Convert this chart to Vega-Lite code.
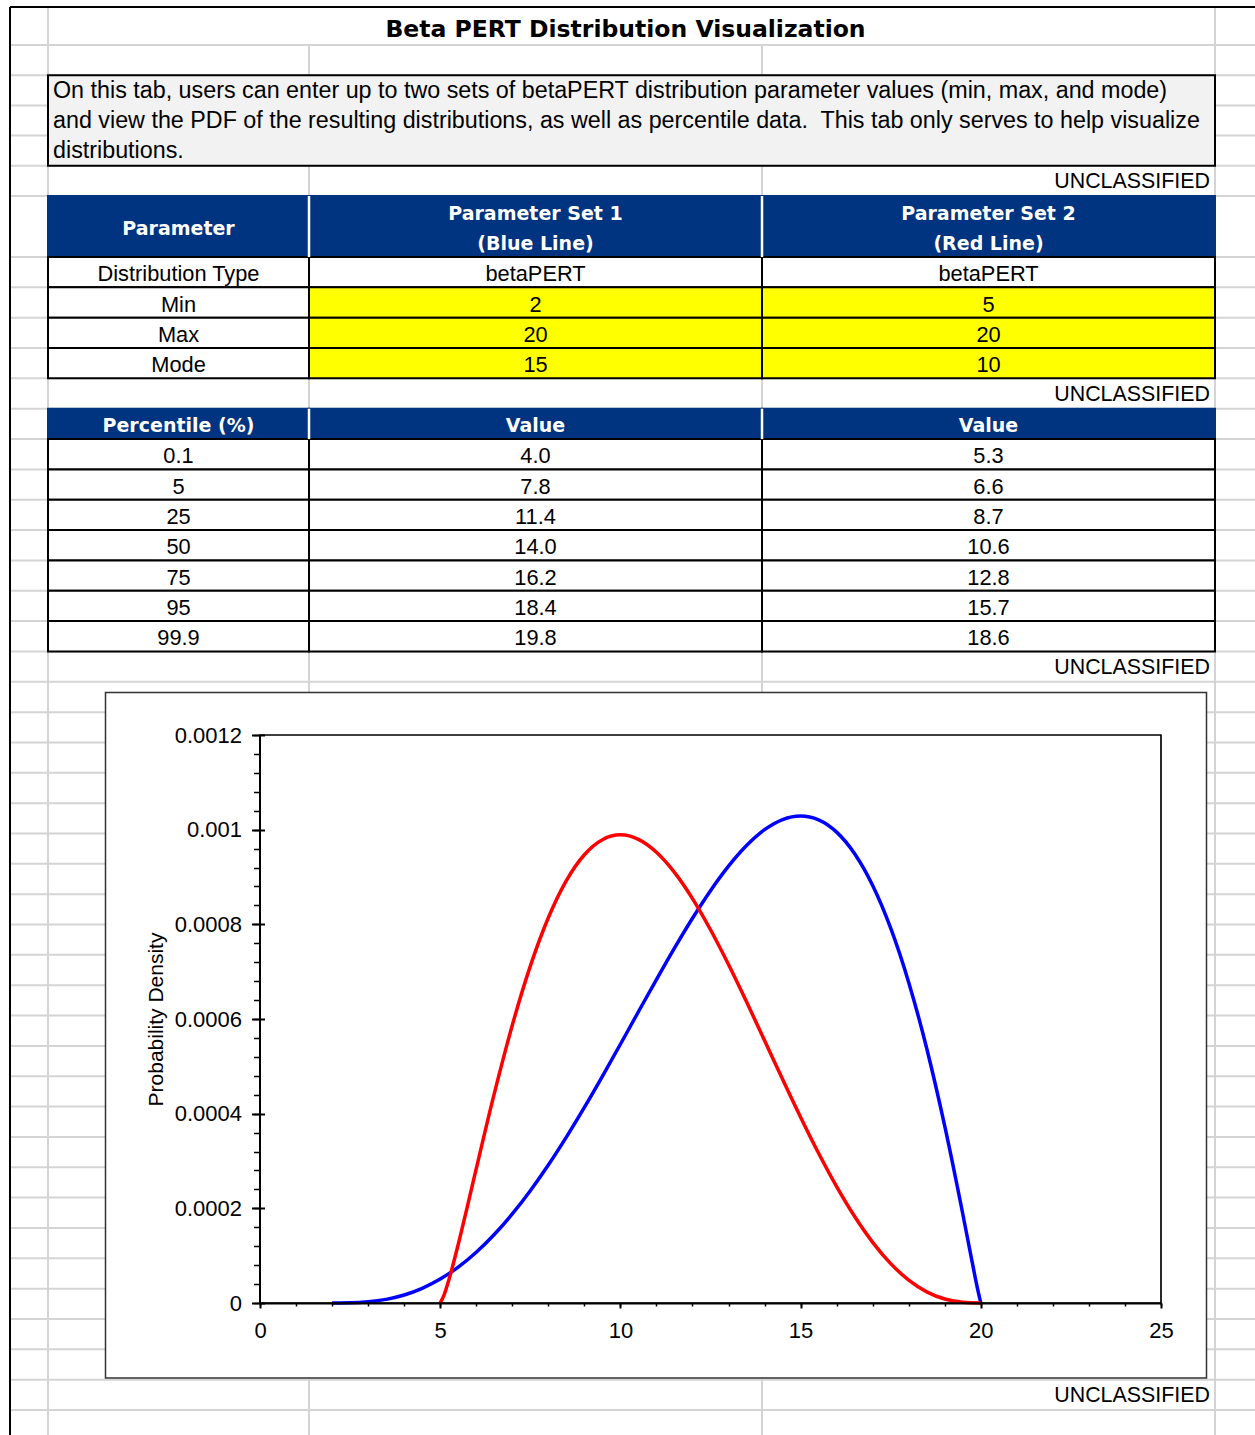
{
  "$schema": "https://vega.github.io/schema/vega-lite/v6.json",
  "width": 1255,
  "height": 1435,
  "autosize": {"type": "none"},
  "padding": 0,
  "background": "white",
  "config": {"view": {"stroke": null}, "text": {"font": "Liberation Sans", "color": "black"}},
  "datasets": {
    "hgrid": [{"r":1},{"r":2},{"r":3},{"r":4},{"r":5},{"r":6},{"r":7},{"r":8},{"r":9},{"r":10},{"r":11},{"r":12},{"r":13},{"r":14},{"r":15},{"r":16},{"r":17},{"r":18},{"r":19},{"r":20},{"r":21},{"r":22},{"r":23},{"r":24},{"r":25},{"r":26},{"r":27},{"r":28},{"r":29},{"r":30},{"r":31},{"r":32},{"r":33},{"r":34},{"r":35},{"r":36},{"r":37},{"r":38},{"r":39},{"r":40},{"r":41},{"r":42},{"r":43},{"r":44},{"r":45}],
    "vgrid": [{"c":1,"r0":0,"r1":46},{"c":2,"r0":1,"r1":46},{"c":3,"r0":1,"r1":46},{"c":4,"r0":0,"r1":46}],
    "edges": [{"c0":0,"c1":5,"r0":0,"r1":0},{"c0":0,"c1":0,"r0":0,"r1":46}],
    "seps": [{"c":2,"r0":6,"r1":7},{"c":3,"r0":6,"r1":7},{"c":2,"r0":12,"r1":13},{"c":3,"r0":12,"r1":13}],
    "note": [
      {"r0":2,"c":1,"label":"On this tab, users can enter up to two sets of betaPERT distribution parameter values (min, max, and mode)"},
      {"r0":3,"c":1,"label":"and view the PDF of the resulting distributions, as well as percentile data.\u00a0 This tab only serves to help visualize"},
      {"r0":4,"c":1,"label":"distributions."}
    ],
    "marks": [{"r0":5,"label":"UNCLASSIFIED"},{"r0":11,"label":"UNCLASSIFIED"},{"r0":20,"label":"UNCLASSIFIED"},{"r0":44,"label":"UNCLASSIFIED"}],
    "table": [
      {"r0":6,"r1":7,"c0":1,"c1":2,"kind":"head","lines":1,"label":"Parameter"},
      {"r0":6,"r1":7,"c0":2,"c1":3,"kind":"head","lines":2,"label":"Parameter Set 1\n(Blue Line)"},
      {"r0":6,"r1":7,"c0":3,"c1":4,"kind":"head","lines":2,"label":"Parameter Set 2\n(Red Line)"},
      {"r0":7,"r1":8,"c0":1,"c1":2,"kind":"plain","lines":1,"label":"Distribution Type"},
      {"r0":7,"r1":8,"c0":2,"c1":3,"kind":"plain","lines":1,"label":"betaPERT"},
      {"r0":7,"r1":8,"c0":3,"c1":4,"kind":"plain","lines":1,"label":"betaPERT"},
      {"r0":8,"r1":9,"c0":1,"c1":2,"kind":"plain","lines":1,"label":"Min"},
      {"r0":8,"r1":9,"c0":2,"c1":3,"kind":"input","lines":1,"label":"2"},
      {"r0":8,"r1":9,"c0":3,"c1":4,"kind":"input","lines":1,"label":"5"},
      {"r0":9,"r1":10,"c0":1,"c1":2,"kind":"plain","lines":1,"label":"Max"},
      {"r0":9,"r1":10,"c0":2,"c1":3,"kind":"input","lines":1,"label":"20"},
      {"r0":9,"r1":10,"c0":3,"c1":4,"kind":"input","lines":1,"label":"20"},
      {"r0":10,"r1":11,"c0":1,"c1":2,"kind":"plain","lines":1,"label":"Mode"},
      {"r0":10,"r1":11,"c0":2,"c1":3,"kind":"input","lines":1,"label":"15"},
      {"r0":10,"r1":11,"c0":3,"c1":4,"kind":"input","lines":1,"label":"10"},
      {"r0":12,"r1":13,"c0":1,"c1":2,"kind":"head","lines":1,"label":"Percentile (%)"},
      {"r0":12,"r1":13,"c0":2,"c1":3,"kind":"head","lines":1,"label":"Value"},
      {"r0":12,"r1":13,"c0":3,"c1":4,"kind":"head","lines":1,"label":"Value"},
      {"r0":13,"r1":14,"c0":1,"c1":2,"kind":"plain","lines":1,"label":"0.1"},
      {"r0":13,"r1":14,"c0":2,"c1":3,"kind":"plain","lines":1,"label":"4.0"},
      {"r0":13,"r1":14,"c0":3,"c1":4,"kind":"plain","lines":1,"label":"5.3"},
      {"r0":14,"r1":15,"c0":1,"c1":2,"kind":"plain","lines":1,"label":"5"},
      {"r0":14,"r1":15,"c0":2,"c1":3,"kind":"plain","lines":1,"label":"7.8"},
      {"r0":14,"r1":15,"c0":3,"c1":4,"kind":"plain","lines":1,"label":"6.6"},
      {"r0":15,"r1":16,"c0":1,"c1":2,"kind":"plain","lines":1,"label":"25"},
      {"r0":15,"r1":16,"c0":2,"c1":3,"kind":"plain","lines":1,"label":"11.4"},
      {"r0":15,"r1":16,"c0":3,"c1":4,"kind":"plain","lines":1,"label":"8.7"},
      {"r0":16,"r1":17,"c0":1,"c1":2,"kind":"plain","lines":1,"label":"50"},
      {"r0":16,"r1":17,"c0":2,"c1":3,"kind":"plain","lines":1,"label":"14.0"},
      {"r0":16,"r1":17,"c0":3,"c1":4,"kind":"plain","lines":1,"label":"10.6"},
      {"r0":17,"r1":18,"c0":1,"c1":2,"kind":"plain","lines":1,"label":"75"},
      {"r0":17,"r1":18,"c0":2,"c1":3,"kind":"plain","lines":1,"label":"16.2"},
      {"r0":17,"r1":18,"c0":3,"c1":4,"kind":"plain","lines":1,"label":"12.8"},
      {"r0":18,"r1":19,"c0":1,"c1":2,"kind":"plain","lines":1,"label":"95"},
      {"r0":18,"r1":19,"c0":2,"c1":3,"kind":"plain","lines":1,"label":"18.4"},
      {"r0":18,"r1":19,"c0":3,"c1":4,"kind":"plain","lines":1,"label":"15.7"},
      {"r0":19,"r1":20,"c0":1,"c1":2,"kind":"plain","lines":1,"label":"99.9"},
      {"r0":19,"r1":20,"c0":2,"c1":3,"kind":"plain","lines":1,"label":"19.8"},
      {"r0":19,"r1":20,"c0":3,"c1":4,"kind":"plain","lines":1,"label":"18.6"}
    ],
    "pdf": [
      {"set":"Parameter Set 1","x":2,"density":0},
      {"set":"Parameter Set 1","x":2.5,"density":0.0000003},
      {"set":"Parameter Set 1","x":3,"density":0.0000024},
      {"set":"Parameter Set 1","x":3.5,"density":0.0000076},
      {"set":"Parameter Set 1","x":4,"density":0.0000168},
      {"set":"Parameter Set 1","x":4.5,"density":0.0000309},
      {"set":"Parameter Set 1","x":5,"density":0.0000505},
      {"set":"Parameter Set 1","x":5.5,"density":0.0000758},
      {"set":"Parameter Set 1","x":6,"density":0.0001073},
      {"set":"Parameter Set 1","x":6.5,"density":0.0001448},
      {"set":"Parameter Set 1","x":7,"density":0.0001882},
      {"set":"Parameter Set 1","x":7.5,"density":0.0002373},
      {"set":"Parameter Set 1","x":8,"density":0.0002916},
      {"set":"Parameter Set 1","x":8.5,"density":0.0003505},
      {"set":"Parameter Set 1","x":9,"density":0.0004133},
      {"set":"Parameter Set 1","x":9.5,"density":0.000479},
      {"set":"Parameter Set 1","x":10,"density":0.0005467},
      {"set":"Parameter Set 1","x":10.5,"density":0.0006153},
      {"set":"Parameter Set 1","x":11,"density":0.0006834},
      {"set":"Parameter Set 1","x":11.5,"density":0.0007498},
      {"set":"Parameter Set 1","x":12,"density":0.0008129},
      {"set":"Parameter Set 1","x":12.5,"density":0.0008712},
      {"set":"Parameter Set 1","x":13,"density":0.000923},
      {"set":"Parameter Set 1","x":13.5,"density":0.0009665},
      {"set":"Parameter Set 1","x":14,"density":0.0010},
      {"set":"Parameter Set 1","x":14.5,"density":0.0010214},
      {"set":"Parameter Set 1","x":15,"density":0.001029},
      {"set":"Parameter Set 1","x":15.5,"density":0.0010208},
      {"set":"Parameter Set 1","x":16,"density":0.0009948},
      {"set":"Parameter Set 1","x":16.5,"density":0.0009491},
      {"set":"Parameter Set 1","x":17,"density":0.000882},
      {"set":"Parameter Set 1","x":17.5,"density":0.0007918},
      {"set":"Parameter Set 1","x":18,"density":0.0006773},
      {"set":"Parameter Set 1","x":18.5,"density":0.0005377},
      {"set":"Parameter Set 1","x":19,"density":0.0003735},
      {"set":"Parameter Set 1","x":19.5,"density":0.0001881},
      {"set":"Parameter Set 1","x":19.75,"density":0.0000907},
      {"set":"Parameter Set 1","x":19.9,"density":0.0000336},
      {"set":"Parameter Set 1","x":20,"density":0},
      {"set":"Parameter Set 2","x":5,"density":0},
      {"set":"Parameter Set 2","x":5.1,"density":0.0000156},
      {"set":"Parameter Set 2","x":5.25,"density":0.0000514},
      {"set":"Parameter Set 2","x":5.5,"density":0.0001237},
      {"set":"Parameter Set 2","x":5.75,"density":0.0002027},
      {"set":"Parameter Set 2","x":6,"density":0.0002837},
      {"set":"Parameter Set 2","x":6.5,"density":0.0004422},
      {"set":"Parameter Set 2","x":7,"density":0.0005868},
      {"set":"Parameter Set 2","x":7.5,"density":0.0007116},
      {"set":"Parameter Set 2","x":8,"density":0.0008138},
      {"set":"Parameter Set 2","x":8.5,"density":0.0008923},
      {"set":"Parameter Set 2","x":9,"density":0.000947},
      {"set":"Parameter Set 2","x":9.5,"density":0.0009788},
      {"set":"Parameter Set 2","x":10,"density":0.000989},
      {"set":"Parameter Set 2","x":10.5,"density":0.0009795},
      {"set":"Parameter Set 2","x":11,"density":0.0009522},
      {"set":"Parameter Set 2","x":11.5,"density":0.0009097},
      {"set":"Parameter Set 2","x":12,"density":0.0008543},
      {"set":"Parameter Set 2","x":12.5,"density":0.0007885},
      {"set":"Parameter Set 2","x":13,"density":0.000715},
      {"set":"Parameter Set 2","x":13.5,"density":0.0006362},
      {"set":"Parameter Set 2","x":14,"density":0.0005546},
      {"set":"Parameter Set 2","x":14.5,"density":0.0004726},
      {"set":"Parameter Set 2","x":15,"density":0.0003925},
      {"set":"Parameter Set 2","x":15.5,"density":0.0003163},
      {"set":"Parameter Set 2","x":16,"density":0.0002458},
      {"set":"Parameter Set 2","x":16.5,"density":0.0001827},
      {"set":"Parameter Set 2","x":17,"density":0.0001282},
      {"set":"Parameter Set 2","x":17.5,"density":0.0000832},
      {"set":"Parameter Set 2","x":18,"density":0.0000484},
      {"set":"Parameter Set 2","x":18.5,"density":0.0000236},
      {"set":"Parameter Set 2","x":19,"density":0.0000084},
      {"set":"Parameter Set 2","x":19.5,"density":0.0000014},
      {"set":"Parameter Set 2","x":20,"density":0}
    ]
  },
  "layer": [
    {
      "layer": [
        {
          "data": {"name": "hgrid"},
          "mark": {"type": "rule", "color": "#d4d4d4", "strokeWidth": 2},
          "encoding": {
            "x": {"datum": 0, "type": "quantitative", "scale": {"domain": [0,1,2,3,4,5], "range": [10,48,309,762,1215,1255], "nice": false, "zero": false}, "axis": null},
            "x2": {"datum": 5},
            "y": {"field": "r", "type": "quantitative", "scale": {"domain": [0,1,6,7,45,46], "range": [7,45,196,257,1410,1440], "nice": false, "zero": false}, "axis": null}
          }
        },
        {
          "data": {"name": "vgrid"},
          "mark": {"type": "rule", "color": "#d4d4d4", "strokeWidth": 2},
          "encoding": {
            "x": {"field": "c", "type": "quantitative", "scale": {"domain": [0,1,2,3,4,5], "range": [10,48,309,762,1215,1255], "nice": false, "zero": false}, "axis": null},
            "y": {"field": "r0", "type": "quantitative", "scale": {"domain": [0,1,6,7,45,46], "range": [7,45,196,257,1410,1440], "nice": false, "zero": false}, "axis": null},
            "y2": {"field": "r1"}
          }
        },
        {
          "data": {"values": [{"r0": 2, "r1": 5, "c0": 1, "c1": 4}]},
          "mark": {"type": "rect", "fill": "#f2f2f2", "stroke": "black", "strokeWidth": 2},
          "encoding": {
            "x": {"field": "c0", "type": "quantitative", "scale": {"domain": [0,1,2,3,4,5], "range": [10,48,309,762,1215,1255], "nice": false, "zero": false}, "axis": null},
            "x2": {"field": "c1"},
            "y": {"field": "r0", "type": "quantitative", "scale": {"domain": [0,1,6,7,45,46], "range": [7,45,196,257,1410,1440], "nice": false, "zero": false}, "axis": null},
            "y2": {"field": "r1"}
          }
        },
        {
          "data": {"name": "table"},
          "mark": {"type": "rect", "strokeWidth": 2},
          "encoding": {
            "x": {"field": "c0", "type": "quantitative", "scale": {"domain": [0,1,2,3,4,5], "range": [10,48,309,762,1215,1255], "nice": false, "zero": false}, "axis": null},
            "x2": {"field": "c1"},
            "y": {"field": "r0", "type": "quantitative", "scale": {"domain": [0,1,6,7,45,46], "range": [7,45,196,257,1410,1440], "nice": false, "zero": false}, "axis": null},
            "y2": {"field": "r1"},
            "fill": {"field": "kind", "type": "nominal", "scale": {"domain": ["head","input","plain"], "range": ["#003380","#ffff00","#ffffff"]}, "legend": null},
            "stroke": {"field": "kind", "type": "nominal", "scale": {"domain": ["head","input","plain"], "range": ["#003380","#000000","#000000"]}, "legend": null}
          }
        },
        {
          "data": {"name": "seps"},
          "mark": {"type": "rule", "color": "white", "strokeWidth": 2.5},
          "encoding": {
            "x": {"field": "c", "type": "quantitative", "scale": {"domain": [0,1,2,3,4,5], "range": [10,48,309,762,1215,1255], "nice": false, "zero": false}, "axis": null},
            "y": {"field": "r0", "type": "quantitative", "scale": {"domain": [0,1,6,7,45,46], "range": [7,45,196,257,1410,1440], "nice": false, "zero": false}, "axis": null},
            "y2": {"field": "r1"}
          }
        },
        {
          "data": {"name": "edges"},
          "mark": {"type": "rule", "color": "black", "strokeWidth": 2},
          "encoding": {
            "x": {"field": "c0", "type": "quantitative", "scale": {"domain": [0,1,2,3,4,5], "range": [10,48,309,762,1215,1255], "nice": false, "zero": false}, "axis": null},
            "x2": {"field": "c1"},
            "y": {"field": "r0", "type": "quantitative", "scale": {"domain": [0,1,6,7,45,46], "range": [7,45,196,257,1410,1440], "nice": false, "zero": false}, "axis": null},
            "y2": {"field": "r1"}
          }
        }
      ]
    },
    {
      "data": {"values": [{"frame": "chart area"}]},
      "mark": {"type": "rect", "fill": "white", "stroke": "#333333", "strokeWidth": 1.5},
      "encoding": {
        "x": {"datum": 0, "type": "quantitative", "scale": {"domain": [0, 1], "range": [105.5, 1206.5], "nice": false, "zero": false}, "axis": null},
        "x2": {"datum": 1},
        "y": {"datum": 0, "type": "quantitative", "scale": {"domain": [0, 1], "range": [1378, 692.5], "nice": false, "zero": false}, "axis": null},
        "y2": {"datum": 1}
      }
    },
    {
      "data": {"values": [{"label": "Beta PERT Distribution Visualization"}]},
      "mark": {"type": "text", "font": "DejaVu Sans", "fontWeight": "bold", "fontSize": 23.5, "baseline": "middle", "align": "center", "dx": -6, "dy": 4},
      "encoding": {
        "x": {"datum": 2.5, "type": "quantitative", "scale": {"domain": [1, 4], "range": [48, 1215], "nice": false, "zero": false}, "axis": null},
        "y": {"datum": 0, "type": "quantitative", "scale": {"domain": [0,1,5,6,7,44], "range": [26,60.1,180.9,226.5,272.2,1394.8], "nice": false, "zero": false}, "axis": null},
        "text": {"field": "label", "type": "nominal"}
      }
    },
    {
      "data": {"name": "note"},
      "mark": {"type": "text", "fontSize": 23.3, "baseline": "middle", "align": "left", "dx": 5, "dy": 0.5},
      "encoding": {
        "x": {"field": "c", "type": "quantitative", "scale": {"domain": [0,1,2,3,4,5], "range": [10,48,309,762,1215,1255], "nice": false, "zero": false}, "axis": null},
        "y": {"field": "r0", "type": "quantitative", "scale": {"domain": [0,1,5,6,7,44], "range": [26,60.1,180.9,226.5,272.2,1394.8], "nice": false, "zero": false}, "axis": null},
        "text": {"field": "label", "type": "nominal"}
      }
    },
    {
      "data": {"name": "marks"},
      "mark": {"type": "text", "fontSize": 21.4, "baseline": "middle", "align": "right", "dx": -5, "dy": 1},
      "encoding": {
        "x": {"datum": 4, "type": "quantitative", "scale": {"domain": [0,1,2,3,4,5], "range": [10,48,309,762,1215,1255], "nice": false, "zero": false}, "axis": null},
        "y": {"field": "r0", "type": "quantitative", "scale": {"domain": [0,1,5,6,7,44], "range": [26,60.1,180.9,226.5,272.2,1394.8], "nice": false, "zero": false}, "axis": null},
        "text": {"field": "label", "type": "nominal"}
      }
    },
    {
      "data": {"name": "table"},
      "transform": [{"filter": "datum.kind == 'head' && datum.lines == 1"}],
      "mark": {"type": "text", "font": "DejaVu Sans", "fontWeight": "bold", "fontSize": 19, "color": "white", "baseline": "middle", "align": "center", "dy": 2},
      "encoding": {
        "x": {"field": "c0", "type": "quantitative", "scale": {"domain": [1,2,3], "range": [178.5,535.5,988.5], "nice": false, "zero": false}, "axis": null},
        "y": {"field": "r0", "type": "quantitative", "scale": {"domain": [0,1,5,6,7,44], "range": [26,60.1,180.9,226.5,272.2,1394.8], "nice": false, "zero": false}, "axis": null},
        "text": {"field": "label", "type": "nominal"}
      }
    },
    {
      "data": {"name": "table"},
      "transform": [{"filter": "datum.kind == 'head' && datum.lines == 2"}],
      "mark": {"type": "text", "font": "DejaVu Sans", "fontWeight": "bold", "fontSize": 19, "color": "white", "baseline": "middle", "align": "center", "lineBreak": "\n", "lineHeight": 30, "dy": -13},
      "encoding": {
        "x": {"field": "c0", "type": "quantitative", "scale": {"domain": [1,2,3], "range": [178.5,535.5,988.5], "nice": false, "zero": false}, "axis": null},
        "y": {"field": "r0", "type": "quantitative", "scale": {"domain": [0,1,5,6,7,44], "range": [26,60.1,180.9,226.5,272.2,1394.8], "nice": false, "zero": false}, "axis": null},
        "text": {"field": "label", "type": "nominal"}
      }
    },
    {
      "data": {"name": "table"},
      "transform": [{"filter": "datum.kind != 'head'"}],
      "mark": {"type": "text", "fontSize": 21.8, "baseline": "middle", "align": "center", "dy": 2},
      "encoding": {
        "x": {"field": "c0", "type": "quantitative", "scale": {"domain": [1,2,3], "range": [178.5,535.5,988.5], "nice": false, "zero": false}, "axis": null},
        "y": {"field": "r0", "type": "quantitative", "scale": {"domain": [0,1,5,6,7,44], "range": [26,60.1,180.9,226.5,272.2,1394.8], "nice": false, "zero": false}, "axis": null},
        "text": {"field": "label", "type": "nominal"}
      }
    },
    {
      "layer": [
        {
          "data": {"values": [{"frame": "plot area"}]},
          "mark": {"type": "rect", "fill": "transparent", "stroke": "black", "strokeWidth": 1.2},
          "encoding": {
            "x": {"datum": 0, "type": "quantitative", "scale": {"domain": [0, 25], "range": [260, 1161], "nice": false, "zero": false},
                  "axis": {"orient": "bottom", "offset": -132, "zindex": 1, "values": [0,5,10,15,20,25], "format": "d", "title": null, "grid": false, "domainColor": "black", "domainWidth": 2, "tickColor": "black", "tickWidth": 2, "tickSize": 5, "labelFont": "Liberation Sans", "labelFontSize": 22, "labelColor": "black", "labelPadding": 12, "labelFlush": false, "labelOverlap": false}},
            "x2": {"datum": 25},
            "y": {"datum": 0, "type": "quantitative", "scale": {"domain": [0, 0.0012], "range": [1303, 735], "nice": false, "zero": false},
                  "axis": {"orient": "left", "offset": -259.5, "zindex": 1, "values": [0,0.0002,0.0004,0.0006,0.0008,0.001,0.0012], "format": ".2~g", "title": "Probability Density", "titleFont": "Liberation Sans", "titleFontSize": 21, "titleFontWeight": "normal", "titleColor": "black", "titlePadding": 8, "grid": false, "domainColor": "black", "domainWidth": 2, "tickColor": "black", "tickWidth": 2, "tickSize": 8, "labelFont": "Liberation Sans", "labelFontSize": 22, "labelColor": "black", "labelPadding": 10, "labelFlush": false, "labelOverlap": false}},
            "y2": {"datum": 0.0012}
          }
        },
        {
          "data": {"name": "pdf"},
          "mark": {"type": "line", "strokeWidth": 3.5, "interpolate": "monotone"},
          "encoding": {
            "x": {"field": "x", "type": "quantitative", "scale": {"domain": [0, 25], "range": [260, 1161], "nice": false, "zero": false},
                  "axis": {"orient": "bottom", "offset": -132, "zindex": 1, "values": [0,1,2,3,4,5,6,7,8,9,10,11,12,13,14,15,16,17,18,19,20,21,22,23,24,25], "labels": false, "domain": false, "grid": false, "title": null, "tickColor": "black", "tickWidth": 1.5, "tickSize": 3}},
            "y": {"field": "density", "type": "quantitative", "scale": {"domain": [0, 0.0012], "range": [1303, 735], "nice": false, "zero": false},
                  "axis": {"orient": "left", "offset": -259.5, "zindex": 1, "values": [0,0.00004,0.00008,0.00012,0.00016,0.0002,0.00024,0.00028,0.00032,0.00036,0.0004,0.00044,0.00048,0.00052,0.00056,0.0006,0.00064,0.00068,0.00072,0.00076,0.0008,0.00084,0.00088,0.00092,0.00096,0.001,0.00104,0.00108,0.00112,0.00116,0.0012], "labels": false, "domain": false, "grid": false, "title": null, "tickColor": "black", "tickWidth": 1.5, "tickSize": 6}},
            "color": {"field": "set", "type": "nominal", "scale": {"domain": ["Parameter Set 1", "Parameter Set 2"], "range": ["#0000ff", "#ff0000"]}, "legend": null}
          }
        },
        {
          "data": {"values": [{"frame": "plot area"}]},
          "mark": {"type": "rect", "fill": "transparent", "stroke": "black", "strokeWidth": 1.2},
          "encoding": {
            "x": {"datum": 0, "type": "quantitative", "scale": {"domain": [0, 25], "range": [260, 1161], "nice": false, "zero": false}, "axis": null},
            "x2": {"datum": 25},
            "y": {"datum": 0, "type": "quantitative", "scale": {"domain": [0, 0.0012], "range": [1303, 735], "nice": false, "zero": false},
                  "axis": {"orient": "left", "offset": -259.5, "zindex": 1, "values": [0,0.0002,0.0004,0.0006,0.0008,0.001,0.0012], "labels": false, "domain": false, "grid": false, "title": null, "tickColor": "black", "tickWidth": 2, "tickSize": -5}},
            "y2": {"datum": 0.0012}
          }
        }
      ],
      "resolve": {"axis": {"x": "independent", "y": "independent"}}
    }
  ],
  "resolve": {"scale": {"x": "independent", "y": "independent"}}
}
